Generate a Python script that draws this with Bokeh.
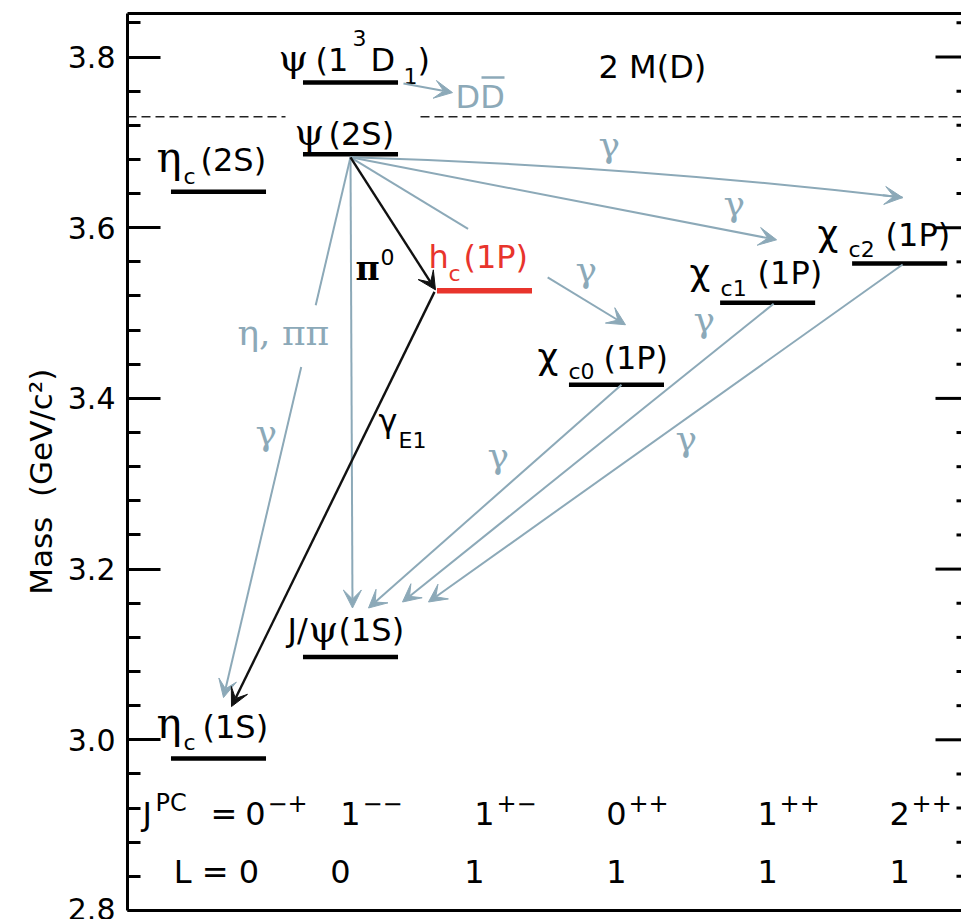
import math
from bokeh.plotting import figure
from bokeh.models import (Range1d, LinearAxis, FixedTicker, PrintfTickFormatter,
                          ColumnDataSource, Arrow, VeeHead)
from bokeh.embed import file_html
from bokeh.resources import INLINE

# ---------------- data ----------------
level_names = ["ηc(1S)", "J/ψ(1S)", "ηc(2S)", "ψ(2S)", "ψ(1³D1)",
               "hc(1P)", "χc0(1P)", "χc1(1P)", "χc2(1P)"]
level_column = [0.0, 1.0, 0.0, 1.0, 1.0, 2.015, 3.015, 4.16, 5.16]
level_mass = [2.978, 3.097, 3.642, 3.686, 3.770, 3.526, 3.416, 3.512, 3.558]

threshold_name = "2 M(D)"
threshold_mass = 3.730

column_x = [0.0, 1.0, 2.015, 3.015, 4.16, 5.16]
jpc_J = ["0", "1", "1", "0", "1", "2"]
jpc_PC = ["−+", "−−", "+−", "++", "++", "++"]
orbital_L = ["0", "0", "1", "1", "1", "1"]

mass_ticks = [2.8, 3.0, 3.2, 3.4, 3.6, 3.8]
mass_minor_ticks = [2.84, 2.88, 2.92, 2.96, 3.04, 3.08, 3.12, 3.16, 3.24, 3.28, 3.32,
                    3.36, 3.44, 3.48, 3.52, 3.56, 3.64, 3.68, 3.72, 3.76, 3.84]

transition_from = ["ψ(2S)", "ψ(2S)", "ψ(2S)", "ψ(2S)", "ψ(2S)", "ψ(2S)",
                   "hc(1P)", "χc0(1P)", "χc1(1P)", "χc2(1P)", "ψ(1³D1)"]
transition_to = ["χc2(1P)", "χc1(1P)", "χc0(1P)", "ηc(1S)", "J/ψ(1S)", "hc(1P)",
                 "ηc(1S)", "J/ψ(1S)", "J/ψ(1S)", "J/ψ(1S)", "DD̄"]

# ---------------- style / layout ----------------
SANS = "DejaVu Sans"
SERIF = "DejaVu Serif"
GREY = "#8CA9B8"
RED = "#E8342C"
BLACK = "#111111"

W, H = 961, 919
BL, BT, BB, BR = 127, 13, 9, 0
PXX = 132.0          # px per column unit
PXY = 853.5          # px per GeV
FRAME_W = W - BL - BR
FRAME_H = H - BT - BB
X0 = -0.6894
X1 = X0 + FRAME_W / PXX
Y0 = 2.8
Y1 = Y0 + FRAME_H / PXY
HALF = 0.36

pos = {n: (c, m) for n, c, m in zip(level_names, level_column, level_mass)}


def at(name, dx=0.0, dy=0.0):
    c, m = pos[name]
    return c + dx / PXX, m - dy / PXY


p = figure(width=W, height=H, x_range=Range1d(X0, X1), y_range=Range1d(Y0, Y1),
           x_axis_location=None, y_axis_location="left", output_backend="svg",
           toolbar_location=None, min_border_left=BL, min_border_right=BR,
           min_border_top=BT, min_border_bottom=BB, outline_line_color=None,
           background_fill_color="white", border_fill_color="white")
p.grid.visible = False

ax = p.yaxis[0]
ax.ticker = FixedTicker(ticks=mass_ticks, minor_ticks=mass_minor_ticks)
ax.formatter = PrintfTickFormatter(format="%.1f")
ax.axis_line_width = 3
ax.axis_line_color = "black"
ax.major_tick_in = 33
ax.major_tick_out = 0
ax.minor_tick_in = 13
ax.minor_tick_out = 0
ax.major_tick_line_width = 3
ax.minor_tick_line_width = 3
ax.major_tick_line_color = "black"
ax.minor_tick_line_color = "black"
ax.major_label_text_font = SANS
ax.major_label_text_font_size = "30px"
ax.major_label_text_color = "black"
ax.major_label_standoff = 12
ax.axis_label = "Mass\u00a0\u00a0(GeV/c²)" + "\u00a0" * 4
ax.axis_label_text_font = SANS
ax.axis_label_text_font_size = "31px"
ax.axis_label_text_font_style = "normal"
ax.axis_label_text_color = "black"
ax.axis_label_standoff = 6

for loc in ("above", "below"):
    a = LinearAxis(ticker=FixedTicker(ticks=[]), major_label_standoff=0,
                   major_tick_out=0, minor_tick_out=0, major_tick_in=0, minor_tick_in=0,
                   axis_line_width=3, axis_line_color="black")
    p.add_layout(a, loc)

# inward ticks along the right edge (the right frame line lies beyond the picture)
p.segment(x0=[X1 - 26 / PXX] * len(mass_ticks), x1=[X1] * len(mass_ticks),
          y0=mass_ticks, y1=mass_ticks, line_color="black", line_width=3)
p.segment(x0=[X1 - 5 / PXX] * len(mass_minor_ticks), x1=[X1] * len(mass_minor_ticks),
          y0=mass_minor_ticks, y1=mass_minor_ticks, line_color="black", line_width=3)

# threshold dashed line with a gap for the psi(2S) label
psi_x = pos["ψ(2S)"][0]
p.segment(x0=[X0, psi_x + 70 / PXX], x1=[psi_x - 65 / PXX, X1],
          y0=[threshold_mass] * 2, y1=[threshold_mass] * 2,
          line_color="#222222", line_width=1.6, line_dash="9 5")

# levels
lvl_colors = [RED if n == "hc(1P)" else "black" for n in level_names]
lvl_widths = [5.5 if n == "hc(1P)" else 4.5 for n in level_names]
lsrc = ColumnDataSource(dict(
    x0=[c - HALF for c in level_column], x1=[c + HALF for c in level_column],
    y=level_mass, color=lvl_colors, lw=lvl_widths))
p.segment(x0="x0", x1="x1", y0="y", y1="y", line_color="color", line_width="lw", source=lsrc)

# ---------------- transitions ----------------
# (start offset px, end anchor, end offset px, color, bend px, gap)
geom = [
    ((0, 3), "χc2(1P)", (3, -66), GREY, -6, None),
    ((0, 3), "χc1(1P)", (9, -63), GREY, 0, None),
    ((0, 3), "χc0(1P)", (9, -60), GREY, 0, (0.4275, 0.717)),
    ((0, 3), "ηc(1S)", (5, -61), GREY, 0, (0.274, 0.388)),
    ((0, 3), "J/ψ(1S)", (2, -49), GREY, 0, None),
    ((0, 3), "hc(1P)", (-49, -1), BLACK, 0, None),
    ((-50, 1), "ηc(1S)", (13, -52), BLACK, 0, None),
    ((5, 0), "J/ψ(1S)", (18, -49), GREY, 0, None),
    ((6, 1), "J/ψ(1S)", (52, -55), GREY, 0, None),
    ((3, 1), "J/ψ(1S)", (78, -55), GREY, 0, None),
    ((53, 1), "ψ(1³D1)", (102, 10), GREY, 0, None),
]

heads = {GREY: dict(x_start=[], y_start=[], x_end=[], y_end=[]),
         BLACK: dict(x_start=[], y_start=[], x_end=[], y_end=[])}
plain = dict(x0=[], y0=[], x1=[], y1=[], color=[])
curves = []

for frm, to, g in zip(transition_from, transition_to, geom):
    soff, anchor, eoff, col, bend, gap = g
    xs, ys = at(frm, *soff)
    xe, ye = at(anchor, *eoff)
    if bend:
        sx0, sy0 = xs * PXX, -ys * PXY
        sx1, sy1 = xe * PXX, -ye * PXY
        L = math.hypot(sx1 - sx0, sy1 - sy0)
        nx, ny = -(sy1 - sy0) / L, (sx1 - sx0) / L
        cx = (sx0 + sx1) / 2 + 2 * bend * nx
        cy = (sy0 + sy1) / 2 + 2 * bend * ny
        curves.append((xs, ys, xe, ye, cx / PXX, -cy / PXY, col))
        tx, ty = sx1 - cx, sy1 - cy
        tl = math.hypot(tx, ty)
        hx, hy = sx1 - 20 * tx / tl, sy1 - 20 * ty / tl
        h = heads[col]
        h["x_start"].append(hx / PXX); h["y_start"].append(-hy / PXY)
        h["x_end"].append(xe); h["y_end"].append(ye)
    elif gap:
        t0, t1 = gap
        plain["x0"].append(xs); plain["y0"].append(ys)
        plain["x1"].append(xs + t0 * (xe - xs)); plain["y1"].append(ys + t0 * (ye - ys))
        plain["color"].append(col)
        h = heads[col]
        h["x_start"].append(xs + t1 * (xe - xs)); h["y_start"].append(ys + t1 * (ye - ys))
        h["x_end"].append(xe); h["y_end"].append(ye)
    else:
        h = heads[col]
        h["x_start"].append(xs); h["y_start"].append(ys)
        h["x_end"].append(xe); h["y_end"].append(ye)

p.segment(x0="x0", y0="y0", x1="x1", y1="y1", line_color="color", line_width=2,
          source=ColumnDataSource(plain))
for (xs, ys, xe, ye, cx, cy, col) in curves:
    p.quadratic(x0=[xs], y0=[ys], x1=[xe], y1=[ye], cx=[cx], cy=[cy],
                line_color=col, line_width=2)
for col, d in heads.items():
    lw = 2.4 if col == BLACK else 2
    p.add_layout(Arrow(source=ColumnDataSource(d), x_start="x_start", y_start="y_start",
                       x_end="x_end", y_end="y_end", line_color=col, line_width=lw,
                       end=VeeHead(size=18, fill_color=col, line_color=col, line_width=1)))

# ---------------- texts ----------------
KIND = {"M": (SANS, 32, "normal"), "s": (SANS, 22, "normal"),
        "p": (SANS, 24, "normal"), "G": (SERIF, 36, "normal"),
        "E": (SERIF, 42, "normal"), "X": (SANS, 36, "normal"),
        "P": (SERIF, 38, "normal"), "Gb": (SERIF, 33, "bold")}
BASE_FIX = 0.3   # baseline correction, fraction of font size

T = {True: dict(x=[], y=[], text=[], dx=[], dy=[], font=[], size=[], color=[], style=[]),
     False: dict(x=[], y=[], text=[], dx=[], dy=[], font=[], size=[], color=[], style=[])}


def put(x, y, text, dx, dy, kind, color="black", center=False):
    f, s, st = KIND[kind]
    d = T[center]
    d["x"].append(x); d["y"].append(y); d["text"].append(text)
    d["dx"].append(dx); d["dy"].append(dy - BASE_FIX * s)
    d["font"].append(f); d["size"].append("%dpx" % s); d["color"].append(color)
    d["style"].append(st)


label_parts = {
    "ηc(1S)": [("η", -62, -22, "E"), ("c", -35, -9, "s"), ("(1S)", -16, -22, "M")],
    "ηc(2S)": [("η", -62, -22, "E"), ("c", -35, -9, "s"), ("(2S)", -18, -22, "M")],
    "ψ(2S)": [("ψ", -56, -11, "P"), ("(2S)", -22, -11, "M")],
    "ψ(1³D1)": [("ψ", -72, -13, "P"), ("(1", -35, -13, "M"), ("3", 2, -38, "s"),
                ("D", 20, -13, "M"), ("1", 53, 0, "s"), (")", 67, -13, "M")],
    "J/ψ(1S)": [("J/", -63, -17, "M"), ("ψ", -42, -17, "P"), ("(1S)", -12, -17, "M")],
    "hc(1P)": [("h", -56, -24, "M"), ("c", -36, -11, "s"), ("(1P)", -21, -24, "M")],
    "χc0(1P)": [("χ", -79, -17, "X"), ("c0", -48, -7, "s"), ("(1P)", -13, -17, "M")],
    "χc1(1P)": [("χ", -78, -20, "X"), ("c1", -47, -8, "s"), ("(1P)", -10, -20, "M")],
    "χc2(1P)": [("χ", -82, -19, "X"), ("c2", -51, -7, "s"), ("(1P)", -14, -19, "M")],
}
for n in level_names:
    c, m = pos[n]
    col = RED if n == "hc(1P)" else "black"
    for txt, dx, dy, k in label_parts[n]:
        put(c, m, txt, dx, dy, k, col)

trans_labels = [
    ("γ", "ψ(2S)", 248, 1, "G", GREY),
    ("γ", "ψ(2S)", 373, 60, "G", GREY),
    ("γ", "hc(1P)", 91, -11, "G", GREY),
    ("η, ππ", "ψ(2S)", -113, 189, "G", GREY),
    ("γ", "ηc(1S)", 37, -315, "G", GREY),
    ("π", "ψ(2S)", 5, 124, "Gb", "black"),
    ("0", "ψ(2S)", 30, 109, "s", "black"),
    ("γ", "hc(1P)", -106, 140, "M", "black"),
    ("E1", "hc(1P)", -86, 156, "s", "black"),
    ("γ", "χc0(1P)", -129, 82, "G", GREY),
    ("γ", "χc1(1P)", -74, 27, "G", GREY),
    ("γ", "χc2(1P)", -224, 186, "G", GREY),
    ("DD", "ψ(1³D1)", 105, 24, "M", GREY),
]
for txt, anc, dx, dy, k, col in trans_labels:
    c, m = pos[anc]
    put(c, m, txt, dx, dy, k, col)

# bar over the anti-D
dc, dm = pos["ψ(1³D1)"]
p.segment(x0=[dc + 131 / PXX], x1=[dc + 154 / PXX], y0=[dm + 5 / PXY], y1=[dm + 5 / PXY],
          line_color=GREY, line_width=2.5)

put(psi_x, threshold_mass, threshold_name, 248, -40, "M")

# quantum-number rows
JPC_ROW = 2.902
L_ROW = 2.834
put(column_x[0], JPC_ROW, "J", -76, 0, "M")
put(column_x[0], JPC_ROW, "PC", -63, -13, "p")
put(column_x[0], JPC_ROW, "=", -8, 0, "M")
j_dx = [37, 0, 0, 0, 0, 0]
l_dx = [-2, -10, -10, 0, 0, 0]
for i, cx in enumerate(column_x):
    put(cx, JPC_ROW, jpc_J[i], j_dx[i], 0, "M", center=True)
    put(cx, JPC_ROW, jpc_PC[i], j_dx[i] + 12, -13, "p")
    txt = ("L = " + orbital_L[i]) if i == 0 else orbital_L[i]
    put(cx, L_ROW, txt, l_dx[i], 0, "M", center=True)

for center, d in T.items():
    p.text(x="x", y="y", text="text", x_offset="dx", y_offset="dy", text_font="font",
           text_font_size="size", text_color="color", text_font_style="style",
           text_align="center" if center else "left", text_baseline="alphabetic",
           source=ColumnDataSource(d))

open("out.html", "w").write(file_html(p, INLINE))
